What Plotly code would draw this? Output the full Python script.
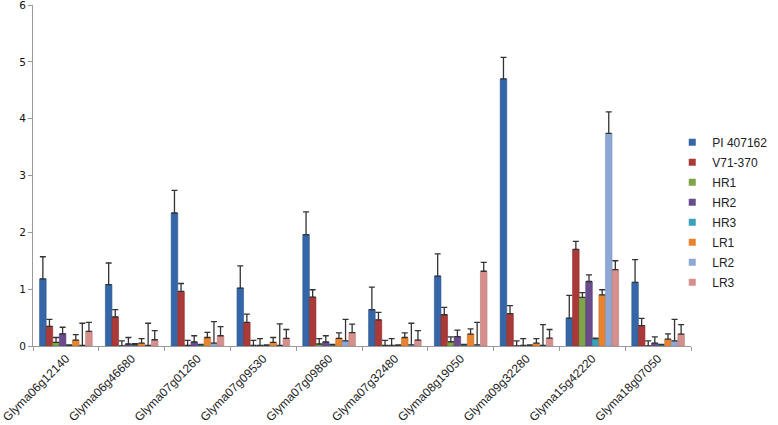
import plotly.graph_objects as go

genes = ["Glyma06g12140", "Glyma06g46680", "Glyma07g01260", "Glyma07g09530", "Glyma07g09860",
         "Glyma07g32480", "Glyma08g19050", "Glyma09g32280", "Glyma15g42220", "Glyma18g07050"]

series_names = ["PI 407162", "V71-370", "HR1", "HR2", "HR3", "LR1", "LR2", "LR3"]

pi407162 = [1.18, 1.08, 2.34, 1.02, 1.96, 0.64, 1.23, 4.70, 0.49, 1.12]
v71_370 = [0.345, 0.51, 0.96, 0.415, 0.86, 0.46, 0.55, 0.57, 1.70, 0.36]
hr1 = [0.065, 0.0, 0.01, 0.01, 0.035, 0.01, 0.075, 0.0, 0.855, 0.0]
hr2 = [0.215, 0.035, 0.07, 0.01, 0.07, 0.01, 0.165, 0.01, 1.135, 0.05]
hr3 = [0.01, 0.02, 0.02, 0.01, 0.02, 0.01, 0.02, 0.01, 0.13, 0.02]
lr1 = [0.105, 0.05, 0.15, 0.065, 0.135, 0.15, 0.21, 0.05, 0.90, 0.12]
lr2 = [0.01, 0.01, 0.05, 0.01, 0.09, 0.02, 0.02, 0.01, 3.74, 0.09]
lr3 = [0.257, 0.11, 0.18, 0.135, 0.235, 0.105, 1.315, 0.14, 1.345, 0.21]

pi407162_err = [0.39, 0.38, 0.40, 0.39, 0.40, 0.395, 0.39, 0.38, 0.40, 0.40]
v71_370_err = [0.125, 0.13, 0.14, 0.145, 0.13, 0.13, 0.13, 0.14, 0.14, 0.125]
hr1_err = [0.085, 0.09, 0.09, 0.09, 0.095, 0.09, 0.085, 0.09, 0.085, 0.09]
hr2_err = [0.115, 0.115, 0.11, 0.12, 0.11, 0.12, 0.115, 0.12, 0.115, 0.11]
hr3_err = [0.01, 0.02, 0.01, 0.01, 0.01, 0.01, 0.01, 0.01, 0.01, 0.01]
lr1_err = [0.095, 0.08, 0.09, 0.085, 0.095, 0.08, 0.09, 0.08, 0.09, 0.095]
lr2_err = [0.39, 0.39, 0.38, 0.38, 0.38, 0.38, 0.395, 0.365, 0.38, 0.38]
lr3_err = [0.158, 0.16, 0.16, 0.155, 0.15, 0.165, 0.155, 0.15, 0.155, 0.165]

values = [pi407162, v71_370, hr1, hr2, hr3, lr1, lr2, lr3]
errors = [pi407162_err, v71_370_err, hr1_err, hr2_err, hr3_err, lr1_err, lr2_err, lr3_err]

colors = ["#3566A8", "#A93A37", "#7FA347", "#6A4C8D", "#3BA0B9", "#E8832F", "#8EA8D6", "#D58F8D"]
edges = ["#2A5590", "#8E2D2A", "#6A8B38", "#563B75", "#2E879C", "#C96E22", "#7B95C2", "#BD7B79"]

fig = go.Figure()
for name, vals, errs, c, e in zip(series_names, values, errors, colors, edges):
    fig.add_trace(go.Bar(
        x=genes, y=vals, name=name, showlegend=False,
        marker=dict(color=c, line=dict(color=e, width=0.6)),
        error_y=dict(type="data", symmetric=False, array=errs, arrayminus=[0] * len(errs),
                     color="#333333", thickness=1.3, width=3),
    ))
for name, c in zip(series_names, colors):
    fig.add_trace(go.Scatter(
        x=[None], y=[None], mode="markers", name=name, legendgroup=name,
        marker=dict(symbol="square", size=7, color=c),
    ))

fig.update_layout(
    width=778, height=425,
    margin=dict(l=33, r=84, t=5, b=79),
    paper_bgcolor="white", plot_bgcolor="white",
    barmode="group", bargap=0.2, bargroupgap=0,
    font=dict(family="Liberation Sans, Arial, sans-serif", color="#222222"),
    legend=dict(x=1.125, xanchor="right", y=0.64, yanchor="top",
                font=dict(size=12, color="#222222"), itemwidth=30,
                tracegroupgap=1, bgcolor="rgba(0,0,0,0)"),
    xaxis=dict(showline=True, linecolor="#9a9a9a", linewidth=1, ticks="outside",
               tickson="boundaries", ticklen=4, tickcolor="#9a9a9a", automargin=False,
               tickangle=-45, tickfont=dict(size=12, family="Liberation Sans, Arial, sans-serif"),
               showgrid=False),
    yaxis=dict(range=[0, 6], dtick=1, showline=True, linecolor="#9a9a9a", linewidth=1,
               ticks="outside", ticklen=4, tickcolor="#9a9a9a", showgrid=False, zeroline=False,
               automargin=False, ticklabeloverflow="allow",
               tickfont=dict(size=10.5, family="DejaVu Sans, Verdana, sans-serif", color="#111111")),
)

fig.write_html("out.html", config={"displayModeBar": False},
               post_script="document.body.style.margin='0';document.body.style.padding='0';")
